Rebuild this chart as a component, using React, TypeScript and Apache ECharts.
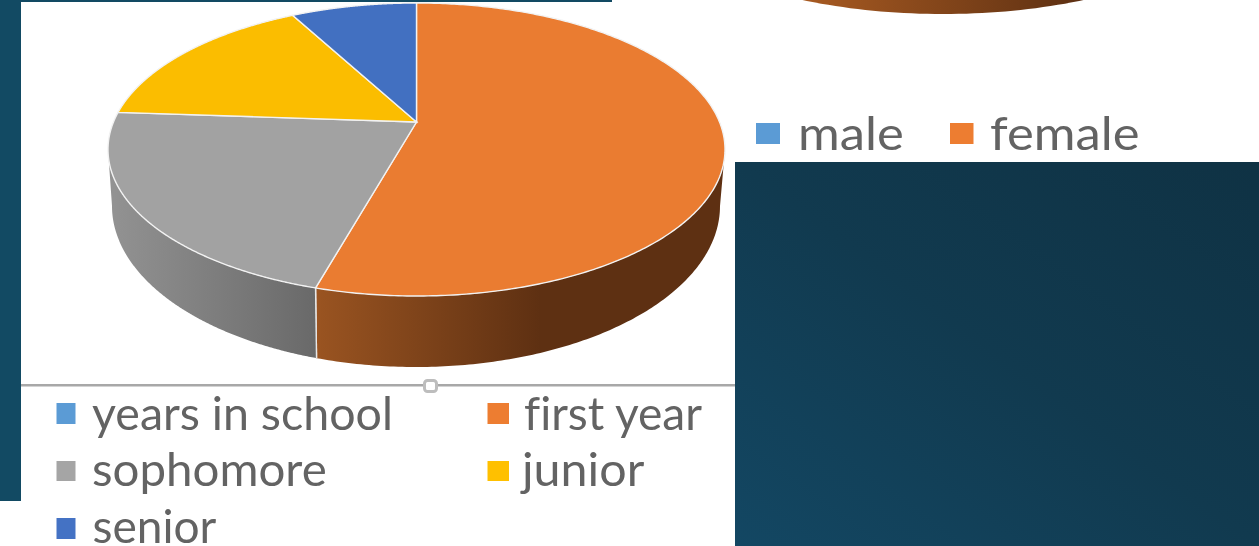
import React, { useEffect, useRef } from "react";
import * as echarts from "echarts";

// Data
const schoolLegend = ["years in school", "first year", "sophomore", "junior", "senior"];
const schoolCategories = ["first year", "sophomore", "junior", "senior"];
const schoolShares = [54.4, 21.7, 16.0, 7.9];
const genderLegend = ["male", "female"];

const W = 1259;
const H = 546;
const TEXT = "#636363";
const swatchColors: Record<string, string> = {
  "years in school": "#5b9bd5",
  "first year": "#ed7d31",
  sophomore: "#a5a5a5",
  junior: "#ffc000",
  senior: "#4472c4",
  male: "#5b9bd5",
  female: "#ed7d31",
};
const topColors: Record<string, string> = {
  "first year": "#ea7c31",
  sophomore: "#a2a2a2",
  junior: "#fbbd00",
  senior: "#4270c1",
};
const wallStops: Record<string, [number, string][]> = {
  "first year": [[0, "#9a5421"], [0.55, "#5e3012"], [1, "#5e3012"]],
  sophomore: [[0, "#939393"], [1, "#696969"]],
  junior: [[0, "#997300"], [1, "#997300"]],
  senior: [[0, "#29457a"], [1, "#29457a"]],
};

// 3D pie geometry (top rim ellipse + perspective apex + bottom rim ellipse)
const cx = 416.5, cy = 149.5, rx = 308.5, ry = 146.5, apexY = 122;
const bx = 416, bc = 206, brx = 304, bry = 161;
const upper = cy - ry - apexY, lower = cy + ry - apexY;
const k = (lower + upper) / (lower - upper);
const A = -upper * (1 + k);
const B = rx * Math.sqrt(1 - k * k);

function rim(t: number): [number, number] {
  const u = Math.sin(2 * Math.PI * t), v = Math.cos(2 * Math.PI * t);
  const d = 1 + k * v;
  return [cx + (B * u) / d, apexY - (A * v) / d];
}
function phiOf(p: [number, number]) {
  return Math.atan2((p[1] - cy) / ry, (p[0] - cx) / rx);
}

const total = schoolShares.reduce((a, b) => a + b, 0);
let running = 0;
const sliceData = schoolShares.map((v, i) => {
  const start = running / total;
  running += v;
  return { name: schoolCategories[i], value: [start, running / total, i] };
});

function renderSlice(_: any, api: any) {
  const t0 = api.value(0), t1 = api.value(1);
  const name = schoolCategories[api.value(2)];
  const n = 300;
  const top: [number, number][] = [[cx, apexY]];
  const front: number[] = [];
  for (let i = 0; i <= n; i++) {
    const p = rim(t0 + ((t1 - t0) * i) / n);
    top.push(p);
    const f = phiOf(p);
    if (f >= 0 && f <= Math.PI) front.push(f);
  }
  const children: any[] = [];
  if (front.length > 1) {
    front.sort((a, b) => a - b);
    if (front[0] < 0.02) front[0] = 0;
    if (front[front.length - 1] > Math.PI - 0.02) front[front.length - 1] = Math.PI;
    const t = front.map((f) => [cx + rx * Math.cos(f), cy + ry * Math.sin(f)]);
    const b = front.map((f) => [bx + brx * Math.cos(f), bc + bry * Math.sin(f)]).reverse();
    children.push({
      type: "polygon",
      shape: { points: t.concat(b) },
      style: {
        fill: new echarts.graphic.LinearGradient(0, 0, 1, 0, wallStops[name].map(([offset, color]) => ({ offset, color }))),
      },
    });
    [front[0], front[front.length - 1]].forEach((f) => {
      if (f > 0.001 && f < Math.PI - 0.001) {
        children.push({
          type: "line",
          shape: {
            x1: cx + rx * Math.cos(f), y1: cy + ry * Math.sin(f),
            x2: bx + brx * Math.cos(f), y2: bc + bry * Math.sin(f),
          },
          style: { stroke: "#e8e8e8", lineWidth: 1.4 },
        });
      }
    });
  }
  children.push({
    type: "polygon",
    shape: { points: top },
    style: { fill: topColors[name], stroke: "#f2f2f2", lineWidth: 1.4 },
  });
  return { type: "group", children };
}

function renderGenderFragment(_: any, api: any) {
  // Bottom rim of the second pie, cropped by the top of the picture
  const gx = 943, gc = -106, grx = 300, gry = 120;
  const pts: number[][] = [];
  for (let f = 0; f <= Math.PI; f += Math.PI / 120) {
    const y = gc + gry * Math.sin(f);
    if (y > -2) pts.push([gx + grx * Math.cos(f), y]);
  }
  return {
    type: "polygon",
    shape: { points: pts },
    style: {
      fill: new echarts.graphic.LinearGradient(0, 0, 1, 0, [
        { offset: 0, color: "#a95b22" },
        { offset: 1, color: "#5c2f12" },
      ]),
    },
  };
}

const legendLayout: Record<string, { sx: number; sy: number; sw: number; sh: number; tx: number; by: number; scale: number }> = {
  "years in school": { sx: 56.5, sy: 403, sw: 19, sh: 21, tx: 92, by: 412, scale: 0.99 },
  "first year": { sx: 487.5, sy: 403, sw: 21.5, sh: 21, tx: 524, by: 412, scale: 0.98 },
  sophomore: { sx: 56.5, sy: 461, sw: 19, sh: 20, tx: 92, by: 468, scale: 1.01 },
  junior: { sx: 487.5, sy: 461, sw: 21.5, sh: 20, tx: 522, by: 468, scale: 1.03 },
  senior: { sx: 56.5, sy: 518, sw: 19, sh: 21, tx: 92.5, by: 525, scale: 0.98 },
  male: { sx: 756, sy: 123, sw: 24, sh: 21, tx: 798, by: 131.5, scale: 1.08 },
  female: { sx: 950, sy: 123, sw: 23.5, sh: 21, tx: 990, by: 131.5, scale: 1.08 },
};

function legendGraphics() {
  return [...schoolLegend, ...genderLegend].flatMap((name) => {
    const l = legendLayout[name];
    return [
      { type: "rect", shape: { x: l.sx, y: l.sy, width: l.sw, height: l.sh }, style: { fill: swatchColors[name] } },
      {
        type: "text",
        x: l.tx,
        y: l.by,
        scaleX: l.scale,
        style: {
          text: name,
          fill: TEXT,
          font: "47px Lato",
          lineHeight: 40,
          verticalAlign: "middle",
          align: "left",
        },
      },
    ];
  });
}

export default function App() {
  const ref = useRef<HTMLDivElement>(null);
  useEffect(() => {
    document.body.style.margin = "0";
    document.body.style.background = "#fff";
    const css = document.createElement("style");
    css.textContent = "svg text { font-variant-ligatures: none !important; }";
    document.head.appendChild(css);
    const chart = echarts.init(ref.current!, undefined, { renderer: "svg" });
    chart.setOption({
      animation: false,
      backgroundColor: "#ffffff",
      graphic: [
        { type: "rect", shape: { x: 0, y: 0, width: 21, height: 501 }, style: { fill: "#124a63" } },
        { type: "rect", shape: { x: 21, y: 0, width: 591, height: 2 }, style: { fill: "#124a63" } },
        {
          type: "rect",
          shape: { x: 735, y: 162, width: 524, height: 384 },
          style: {
            fill: new echarts.graphic.LinearGradient(0, 1, 1, 0, [
              { offset: 0, color: "#134763" },
              { offset: 0.5, color: "#113a4f" },
              { offset: 1, color: "#0f3244" },
            ]),
          },
        },
        { type: "rect", shape: { x: 21, y: 384, width: 714, height: 2.5 }, style: { fill: "#a8a8a8" } },
        { type: "rect", shape: { x: 424.5, y: 380.5, width: 12, height: 11, r: 3 }, style: { fill: "#fff", stroke: "#bdbdbd", lineWidth: 3 } },
        ...legendGraphics(),
      ],
      series: [
        { type: "custom", coordinateSystem: "none", renderItem: renderSlice, data: sliceData, silent: true },
        { type: "custom", coordinateSystem: "none", renderItem: renderGenderFragment, data: [{ name: "female", value: [1] }], silent: true },
      ],
    });
    return () => {
      chart.dispose();
      css.remove();
    };
  }, []);
  return <div ref={ref} style={{ position: "fixed", left: 0, top: 0, width: W, height: H, filter: "blur(0.6px)" }} />;
}
